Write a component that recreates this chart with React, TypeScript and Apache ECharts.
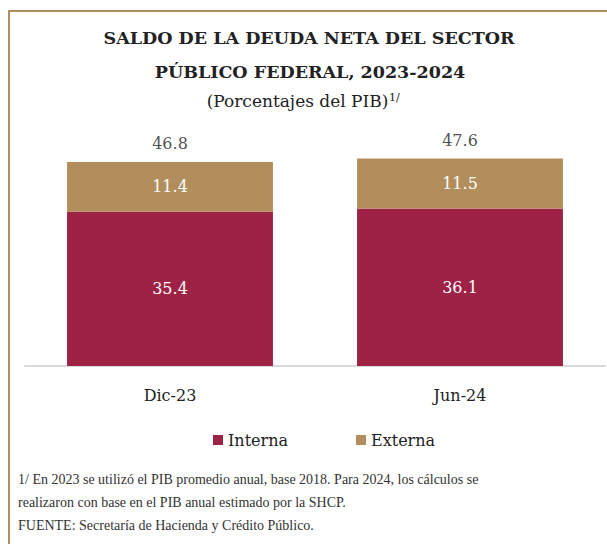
import React, { useEffect, useRef } from "react";
import * as echarts from "echarts";

const categories = ["Dic-23", "Jun-24"];
const interna = [35.4, 36.1];
const externa = [11.4, 11.5];
const totals = [46.8, 47.6];
const titleLines = ["SALDO DE LA DEUDA NETA DEL SECTOR", "PÚBLICO FEDERAL, 2023-2024"];
const subtitle = "(Porcentajes del PIB)";
const footnotes = [
  "1/ En 2023 se utilizó el PIB promedio anual, base 2018. Para 2024, los cálculos se",
  "realizaron con base en el PIB anual estimado por la SHCP.",
  "FUENTE: Secretaría de Hacienda y Crédito Público.",
];

const SERIF = "'DejaVu Serif', serif";
const FOOT = "'Liberation Serif', serif";
const MAROON = "#9E2246";
const GOLD = "#B38E5D";

export default function App() {
  const ref = useRef<HTMLDivElement>(null);
  useEffect(() => {
    if (!ref.current) return;
    const chart = echarts.init(ref.current, undefined, { renderer: "svg" });
    chart.setOption({
      animation: false,
      backgroundColor: "#fff",
      grid: { left: 25, right: 2, top: 148, height: 218 },
      xAxis: {
        type: "category",
        data: categories,
        axisLine: { lineStyle: { color: "#d9d9d9", width: 2 } },
        axisTick: { show: false },
        axisLabel: { color: "#222", fontSize: 16, fontFamily: SERIF, margin: 21 },
      },
      yAxis: { type: "value", min: 0, max: 50, show: false, splitLine: { show: false } },
      legend: {
        data: ["Interna", "Externa"],
        top: 427,
        left: 208,
        icon: "rect",
        itemWidth: 10,
        itemHeight: 10,
        itemGap: 68,
        textStyle: { color: "#222", fontSize: 16, fontFamily: SERIF },
      },
      series: [
        {
          name: "Interna",
          type: "bar",
          stack: "d",
          barWidth: "71%",
          data: interna,
          itemStyle: { color: MAROON },
          label: { show: true, position: "inside", color: "#fff", fontSize: 16, fontFamily: SERIF },
        },
        {
          name: "Externa",
          type: "bar",
          stack: "d",
          data: externa,
          itemStyle: { color: GOLD },
          label: { show: true, position: "inside", color: "#fff", fontSize: 16, fontFamily: SERIF },
        },
        {
          name: "Total",
          type: "scatter",
          data: totals,
          symbolSize: 0,
          silent: true,
          label: {
            show: true,
            position: "top",
            distance: 10,
            color: "#222",
            fontSize: 16,
            fontFamily: SERIF,
            formatter: (p: any) => p.value.toFixed(1),
          },
        },
      ],
      graphic: [
        { type: "line", shape: { x1: 9, y1: 11, x2: 607, y2: 11 }, style: { stroke: GOLD, lineWidth: 2 } },
        { type: "line", shape: { x1: 9, y1: 10, x2: 9, y2: 544 }, style: { stroke: GOLD, lineWidth: 2 } },
        {
          type: "text", x: 309, y: 38,
          style: { text: titleLines[0], textAlign: "center", textVerticalAlign: "middle", fontSize: 17.5, fontWeight: "bold", fontFamily: SERIF, fill: "#222" },
        },
        {
          type: "text", x: 310, y: 72,
          style: { text: titleLines[1], textAlign: "center", textVerticalAlign: "middle", fontSize: 17.5, fontWeight: "bold", fontFamily: SERIF, fill: "#222" },
        },
        {
          type: "text", x: 297.5, y: 101,
          style: { text: subtitle, textAlign: "center", textVerticalAlign: "middle", fontSize: 17, fontFamily: SERIF, fill: "#222" },
        },
        {
          type: "text", x: 389, y: 97,
          style: { text: "1/", textAlign: "left", textVerticalAlign: "middle", fontSize: 11, fontFamily: SERIF, fill: "#222" },
        },
        ...footnotes.map((t, i) => ({
          type: "text", x: 18, y: 479 + i * 23,
          style: { text: t, textAlign: "left", textVerticalAlign: "middle", fontSize: 14, fontFamily: FOOT, fill: "#333" },
        })),
      ],
    });
    return () => chart.dispose();
  }, []);
  return <div ref={ref} style={{ position: "fixed", left: 0, top: 0, width: 607, height: 544 }} />;
}
